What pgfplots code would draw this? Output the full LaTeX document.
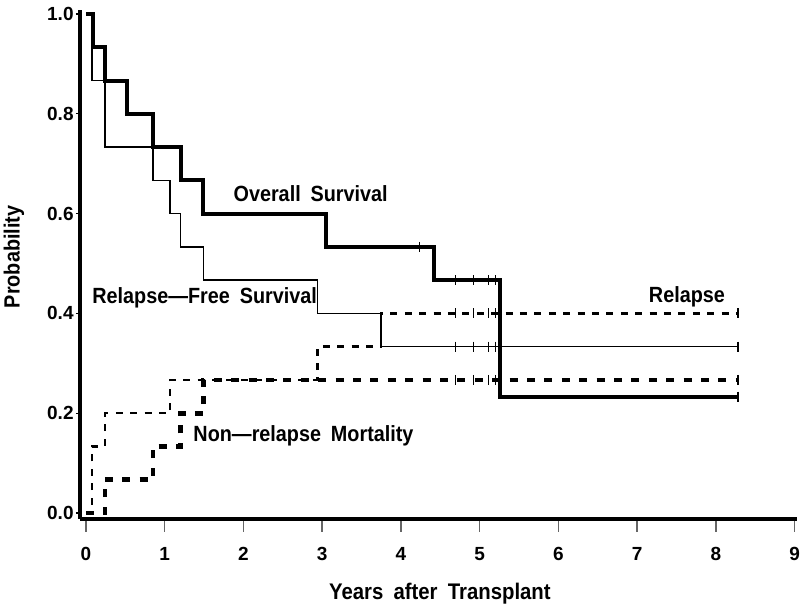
\documentclass[border=0pt]{standalone}
\usepackage{fontspec}
\setmainfont{Liberation Sans}[FakeStretch=0.9, WordSpace=1.8]
\newfontfamily\tickfont{Liberation Sans}
\usepackage{pgfplots}
\pgfplotsset{compat=1.18}
\begin{document}
\begin{tikzpicture}
% overlay axis only for the long grey x ticks
\begin{axis}[
  at={(0,0)}, anchor=south west,
  scale only axis, width=358.5pt, height=254.5pt,
  xmin=-0.076, xmax=9.03, ymin=-0.012, ymax=1.008,
  axis x line*=bottom, axis y line=none,
  axis line style={line width=2pt, -},
  xtick={0,1,2,3,4,5,6,7,8,9}, xticklabels={},
  ytick=\empty,
  tick align=outside,
  major tick length=6.5pt,
  x tick style={line width=0.7pt, black!60},
]
\end{axis}
\begin{axis}[
  name=ax, at={(0,0)}, anchor=south west,
  scale only axis, width=358.5pt, height=254.5pt,
  xmin=-0.076, xmax=9.03, ymin=-0.012, ymax=1.008,
  axis x line*=bottom, axis y line*=left,
  axis line style={line width=2pt, -},
  xtick={0,1,2,3,4,5,6,7,8,9},
  ytick={0,0.2,0.4,0.6,0.8,1.0},
  tick align=outside,
  major tick length=2pt,
  x tick style={draw=none},
  y tick style={line width=0.6pt, black},
  /pgf/number format/assume math mode=true,
  y tick label style={/pgf/number format/fixed, /pgf/number format/fixed zerofill, /pgf/number format/precision=1},
  xticklabel style={font=\tickfont\bfseries\fontsize{9.5}{10}\selectfont, inner sep=0pt, anchor=north, yshift=-12pt},
  yticklabel style={font=\tickfont\bfseries\fontsize{9.5}{10}\selectfont, inner sep=0pt, anchor=east, xshift=-1pt},
  xlabel={Years after Transplant},
  ylabel={Probability},
  xlabel style={font=\bfseries\fontsize{11.3}{12}\selectfont, at={(axis description cs:0.502,-0.147)}, anchor=center, inner sep=0pt},
  ylabel style={font=\bfseries\fontsize{11}{12}\selectfont, at={(axis description cs:-0.092,0.515)}, anchor=center, inner sep=0pt},
  clip=false,
]
% Overall survival
\addplot[const plot, line width=2pt, black] coordinates {
 (0,1) (0.089,0.9333) (0.24,0.8667) (0.52,0.8) (0.85,0.7333) (1.21,0.6667)
 (1.49,0.6) (3.05,0.5333) (4.42,0.4667) (5.26,0.2333) (8.28,0.2333)};
\addplot[only marks, mark=|, mark size=2.5pt, mark options={line width=0.6pt}] coordinates {
 (4.24,0.5333) (4.69,0.4667) (4.92,0.4667) (5.11,0.4667) (5.20,0.4667) (8.28,0.2333)};
% Relapse-free survival
\addplot[const plot, line width=0.8pt, black] coordinates {
 (0,1) (0.076,0.8667) (0.24,0.7333) (0.85,0.6667) (1.07,0.6) (1.20,0.5333)
 (1.49,0.4667) (2.94,0.4) (3.75,0.3333) (8.28,0.3333)};
\addplot[only marks, mark=|, mark size=2.5pt, mark options={line width=0.6pt}] coordinates {
 (4.69,0.3333) (4.92,0.3333) (5.11,0.3333) (5.20,0.3333) (8.28,0.3333)};
% Relapse
\addplot[const plot, line width=1.2pt, black, dash pattern=on 3.5pt off 3.7pt] coordinates {
 (0,0) (0.076,0.1333) (0.24,0.2) (1.07,0.2667) (2.94,0.3333) (3.75,0.4) (8.28,0.4)};
\addplot[only marks, mark=|, mark size=2.5pt, mark options={line width=0.6pt}] coordinates {
 (4.69,0.4) (4.92,0.4) (5.11,0.4) (5.20,0.4) (8.28,0.4)};
% Non-relapse mortality
\addplot[const plot, line width=2.3pt, black, dash pattern=on 4pt off 4.7pt] coordinates {
 (0,0) (0.24,0.0667) (0.85,0.1333) (1.20,0.2) (1.49,0.2667) (8.28,0.2667)};
\addplot[only marks, mark=|, mark size=2.5pt, mark options={line width=0.6pt}] coordinates {
 (4.69,0.2667) (4.92,0.2667) (5.11,0.2667) (5.20,0.2667) (8.28,0.2667)};
% labels
\node[anchor=west, inner sep=0pt, font=\bfseries\fontsize{11}{12}\selectfont] at (axis cs:1.87,0.639) {Overall Survival};
\node[anchor=west, inner sep=0pt, font=\bfseries\fontsize{11}{12}\selectfont] at (axis cs:0.076,0.431) {Relapse—Free Survival};
\node[anchor=east, inner sep=0pt, font=\bfseries\fontsize{11}{12}\selectfont] at (axis cs:8.12,0.433) {Relapse};
\node[anchor=west, inner sep=0pt, font=\bfseries\fontsize{11}{12}\selectfont] at (axis cs:1.36,0.154) {Non—relapse Mortality};
\end{axis}
\pgfresetboundingbox
\path[use as bounding box] (-40pt,-45.5pt) rectangle (360pt,259.5pt);
\end{tikzpicture}
\end{document}
